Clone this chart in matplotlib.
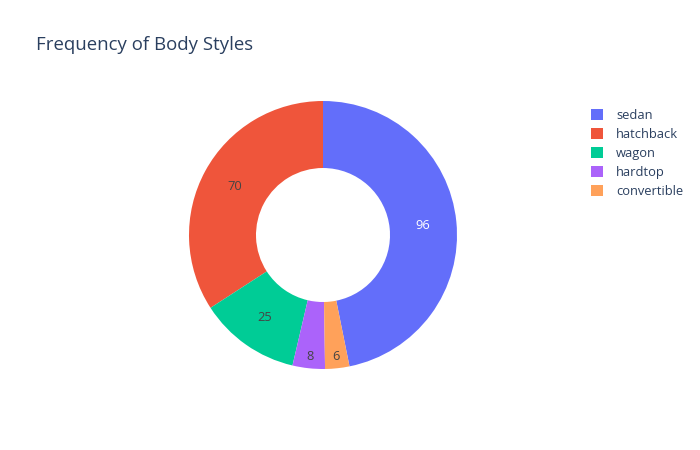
import numpy as np
import matplotlib
matplotlib.use("Agg")
import matplotlib.pyplot as plt
from matplotlib.patches import Patch

plt.rcParams['font.family'] = ['Open Sans', 'DejaVu Sans']

categories = ["sedan", "hatchback", "wagon", "hardtop", "convertible"]
counts = [96, 70, 25, 8, 6]
colors = ["#636efa", "#EF553B", "#00cc96", "#ab63fa", "#FFA15A"]
text_colors = ["white", "#444444", "#444444", "#444444", "#444444"]
title = "Frequency of Body Styles"

fig = plt.figure(figsize=(7, 4.5), dpi=100)
cx, cy, R = 323, 235, 134
ax = fig.add_axes([(cx - R) / 700, (450 - cy - R) / 450, 2 * R / 700, 2 * R / 450])

total = sum(counts)
start = 90 - 360 * counts[0] / total
wedges, _ = ax.pie(counts, colors=colors, startangle=start, counterclock=True,
                   radius=1.0, wedgeprops=dict(width=0.5, linewidth=0))
ax.set_xlim(-1, 1)
ax.set_ylim(-1, 1)
ax.set_aspect('equal')

for w, c, tc in zip(wedges, counts, text_colors):
    mid = np.deg2rad((w.theta1 + w.theta2) / 2)
    frac = c / total
    r = 0.75 if frac > 0.06 else 0.91
    ax.text(r * np.cos(mid), r * np.sin(mid), str(c), ha='center', va='center',
            fontsize=9.3, color=tc)

fig.text(36 / 700, 1 - 45 / 450, title, fontsize=13.4, color="#2a3f5f",
         ha='left', va='center')

handles = [Patch(facecolor=col, edgecolor='none') for col in colors]
leg = fig.legend(handles, categories, loc='upper left',
                 bbox_to_anchor=(591 / 700, 1 - 109 / 450), frameon=False,
                 fontsize=9.3, handlelength=0.9, handleheight=0.9,
                 handletextpad=1.05, labelspacing=0.47, borderaxespad=0,
                 borderpad=0)
for t in leg.get_texts():
    t.set_color("#2a3f5f")

fig.savefig("out.png", dpi=100)
